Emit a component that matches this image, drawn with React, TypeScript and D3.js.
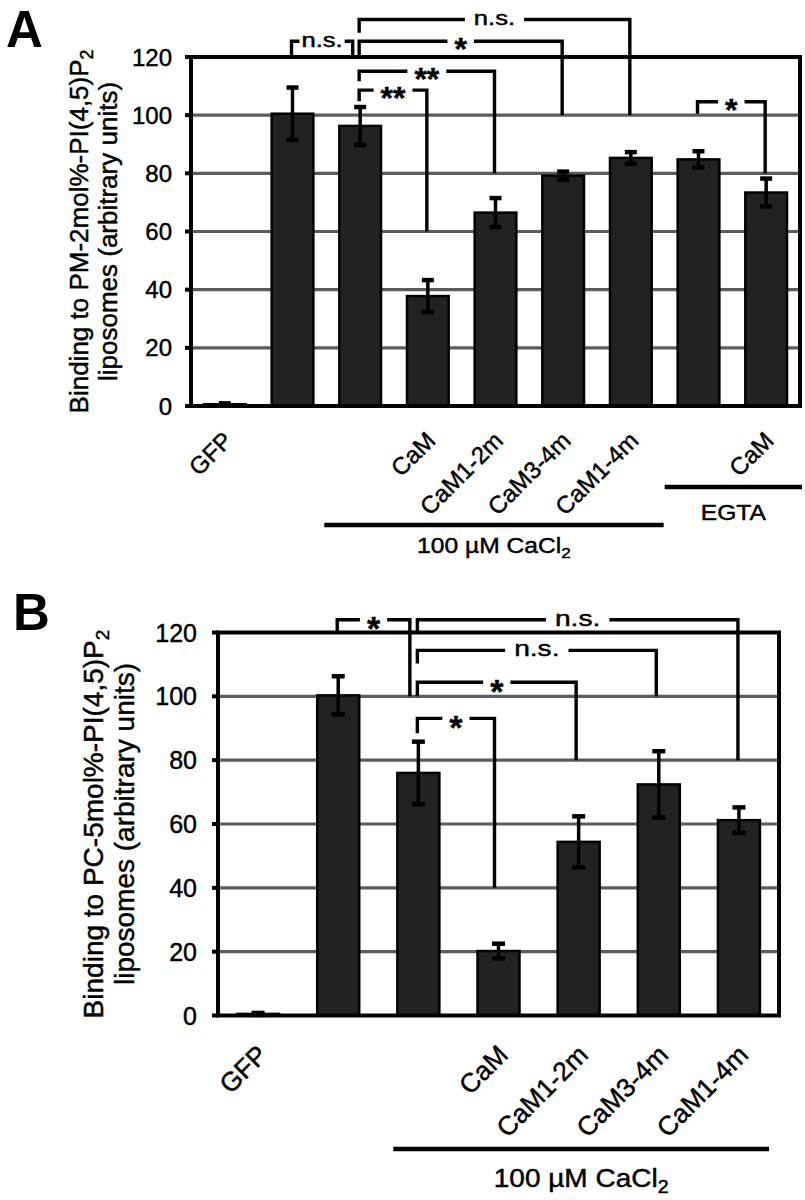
import React from "react";
import * as d3 from "d3";

// ---------- Panel A data ----------
const labelsA = ["GFP", "", "", "CaM", "CaM1-2m", "CaM3-4m", "CaM1-4m", "", "CaM"];
const valuesA = [0.6, 100.5, 96.3, 37.8, 66.5, 79.2, 85.3, 84.8, 73.4];
const errorsA = [0.3, 9, 6.5, 5.5, 5, 1.4, 2, 2.8, 4.8];
const ticksA = [0, 20, 40, 60, 80, 100, 120];
const yTitleA = ["Binding to PM-2mol%-PI(4,5)P", "liposomes (arbitrary units)"];
const bracketsA = [
  { a: 1, b: 2, top: 125.4, aEnd: 120, bEnd: 120, label: "n.s.", bShift: -6.5 },
  { a: 2, b: 6, top: 132.9, aEnd: 128.3, bEnd: 100, label: "n.s.", bShift: 0 },
  { a: 2, b: 5, top: 125.4, aEnd: 120, bEnd: 100, label: "*", bShift: 0 },
  { a: 2, b: 4, top: 115.1, aEnd: 111.7, bEnd: 80, label: "**", bShift: 0 },
  { a: 2, b: 3, top: 108.6, aEnd: 104.8, bEnd: 60, label: "**", bShift: 0 },
  { a: 7, b: 8, top: 104.6, aEnd: 100.5, bEnd: 80, label: "*", bShift: 0 },
];
const groupsA = [
  { from: 2, to: 6, text: "100 µM CaCl", sub: "2" },
  { from: 7, to: 8, text: "EGTA", sub: "" },
];

// ---------- Panel B data ----------
const labelsB = ["GFP", "", "", "CaM", "CaM1-2m", "CaM3-4m", "CaM1-4m"];
const valuesB = [0.5, 100.3, 76, 20.2, 54.4, 72.4, 61.2];
const errorsB = [0.3, 6, 9.8, 2.3, 8, 10.4, 4];
const ticksB = [0, 20, 40, 60, 80, 100, 120];
const yTitleB = ["Binding to PC-5mol%-PI(4,5)P", "liposomes (arbitrary units)"];
const bracketsB = [
  { a: 1, b: 2, top: 124, aEnd: 120, bEnd: 100, label: "*", bShift: -7.5 },
  { a: 2, b: 6, top: 124, aEnd: 120, bEnd: 80, label: "n.s.", bShift: 0 },
  { a: 2, b: 5, top: 114.4, aEnd: 110.3, bEnd: 100, label: "n.s.", bShift: -1.5 },
  { a: 2, b: 4, top: 104.4, aEnd: 100, bEnd: 80, label: "*", bShift: -1.5 },
  { a: 2, b: 3, top: 93.1, aEnd: 88.4, bEnd: 40, label: "*", bShift: -3 },
];
const groupsB = [{ from: 2, to: 6, text: "100 µM CaCl", sub: "2" }];

const FONT = "'Liberation Sans', Arial, Helvetica, sans-serif";
const TXT = { fill: "#000", stroke: "#000", strokeWidth: 0.45 };

let _ctx: CanvasRenderingContext2D | null = null;
function textWidth(s: string, size: number, weight = "normal") {
  if (!_ctx && typeof document !== "undefined") {
    _ctx = document.createElement("canvas").getContext("2d");
  }
  if (!_ctx) return s.length * size * 0.55;
  _ctx.font = `${weight} ${size}px 'Liberation Sans', Arial, sans-serif`;
  return _ctx.measureText(s).width;
}

type PanelCfg = {
  letter: string;
  letterX: number;
  letterY: number;
  labels: string[];
  values: number[];
  errors: number[];
  ticks: number[];
  yTitle: string[];
  brackets: any[];
  groups: any[];
  left: number;
  right: number;
  top: number;
  bottom: number;
  padIn: number;
  tickFont: number;
  tickX: number;
  titleFont: number;
  titleX: number[];
  xFont: number;
  xLabDx: number;
  xLabDy: number;
  nsFont: number;
  starFont: number;
  groupFont: number;
  groupLineY: number[];
  groupTextY: number[];
  groupX0: number[];
  groupX1: number[];
  capW: number;
};

function Panel({ c }: { c: PanelCfg }) {
  const n = c.values.length;
  const x = d3
    .scaleBand<number>()
    .domain(d3.range(n))
    .range([c.left, c.right])
    .paddingInner(c.padIn)
    .paddingOuter(c.padIn / 2);
  const y = d3.scaleLinear().domain([0, 120]).range([c.bottom, c.top]);
  const bw = x.bandwidth();
  const cx = (i: number) => (x(i) as number) + bw / 2;
  const step = x.step();
  const gridTicks = c.ticks.filter((t) => t > 0 && t < 120);
  const titleCY = (c.top + c.bottom) / 2;

  return (
    <g fontFamily={FONT}>
      <text x={c.letterX} y={c.letterY} fontSize={51} fontWeight="bold" fill="#000">
        {c.letter}
      </text>

      {/* gridlines */}
      {gridTicks.map((t) => (
        <line key={"g" + t} x1={c.left} x2={c.right} y1={y(t)} y2={y(t)} stroke="#5c5c5c" strokeWidth={3.2} />
      ))}

      {/* bars */}
      {c.values.map((v, i) => (
        <rect
          key={"b" + i}
          x={x(i)}
          y={y(v)}
          width={bw}
          height={Math.max(0.5, y(0) - y(v))}
          fill="#222"
          stroke="#000"
          strokeWidth={2.5}
        />
      ))}

      {/* frame */}
      <rect x={c.left} y={c.top} width={c.right - c.left} height={c.bottom - c.top} fill="none" stroke="#000" strokeWidth={4} />
      {c.ticks.map((t) => (
        <line key={"t" + t} x1={c.left - 6} x2={c.left} y1={y(t)} y2={y(t)} stroke="#000" strokeWidth={4} />
      ))}
      {c.ticks.map((t) => (
        <text
          key={"tl" + t}
          x={c.tickX}
          y={y(t) + c.tickFont * 0.36}
          fontSize={c.tickFont}
          textAnchor="end"
          {...TXT}
        >
          {t}
        </text>
      ))}

      {/* error bars */}
      {c.values.map((v, i) => {
        const e = c.errors[i];
        const xc = cx(i);
        return (
          <g key={"e" + i} stroke="#000">
            <line x1={xc} x2={xc} y1={y(v + e)} y2={y(v - e)} strokeWidth={3.5} />
            <line x1={xc - c.capW / 2} x2={xc + c.capW / 2} y1={y(v + e)} y2={y(v + e)} strokeWidth={4.5} />
            <line x1={xc - c.capW / 2} x2={xc + c.capW / 2} y1={y(v - e)} y2={y(v - e)} strokeWidth={4.5} />
          </g>
        );
      })}

      {/* y title */}
      {c.yTitle.map((s, k) => (
        <text
          key={"yt" + k}
          transform={`translate(${c.titleX[k]},${titleCY}) rotate(-90)`}
          textAnchor="middle"
          fontSize={c.titleFont}
          {...TXT}
        >
          {s}
          {k === 0 ? (
            <tspan fontSize={c.titleFont * 0.68} dy={c.titleFont * 0.22}>
              2
            </tspan>
          ) : null}
        </text>
      ))}

      {/* x labels */}
      {c.labels.map((s, i) =>
        s ? (
          <text
            key={"xl" + i}
            transform={`translate(${cx(i) + c.xLabDx},${c.bottom + c.xLabDy}) rotate(-45)`}
            textAnchor="end"
            fontSize={c.xFont}
            {...TXT}
          >
            {s}
          </text>
        ) : null
      )}

      {/* group lines */}
      {c.groups.map((g, k) => {
        const x0 = (x(g.from) as number) - (step - bw) / 2 + c.groupX0[k];
        const x1 = (x(g.to) as number) + bw + (step - bw) / 2 + c.groupX1[k];
        const mid = (x0 + x1) / 2;
        return (
          <g key={"gr" + k}>
            <line x1={x0} x2={x1} y1={c.groupLineY[k]} y2={c.groupLineY[k]} stroke="#000" strokeWidth={4.5} />
            <text
              transform={`translate(${mid},${c.groupTextY[k]}) scale(1.12,1)`}
              textAnchor="middle"
              fontSize={c.groupFont}
              {...TXT}
            >
              {g.text}
              {g.sub ? (
                <tspan fontSize={c.groupFont * 0.7} dy={c.groupFont * 0.22}>
                  {g.sub}
                </tspan>
              ) : null}
            </text>
          </g>
        );
      })}

      {/* significance brackets */}
      {c.brackets.map((b, k) => {
        const ax = cx(b.a) - 1;
        const bx = cx(b.b) - 1 + (b.bShift || 0);
        const ty = y(b.top);
        const mid = (ax + bx) / 2;
        const isStar = b.label.indexOf("*") >= 0;
        const fs = isStar ? c.starFont : c.nsFont;
        const sx = isStar ? 1 : 1.28;
        const w = textWidth(b.label, fs, isStar ? "bold" : "normal") * sx;
        const gap = Math.min(w + (isStar ? 14 : 18), Math.abs(bx - ax) - 16);
        const d = `M${ax},${y(b.aEnd)}V${ty}H${mid - gap / 2}M${mid + gap / 2},${ty}H${bx}V${y(b.bEnd)}`;
        const base = isStar ? ty + fs * 0.6 : ty + fs * 0.27;
        return (
          <g key={"br" + k}>
            <path d={d} fill="none" stroke="#000" strokeWidth={3.4} strokeLinejoin="miter" />
            <text
              transform={`translate(${mid},${base}) scale(${sx},1)`}
              textAnchor="middle"
              fontSize={fs}
              fontWeight={isStar ? "bold" : "normal"}
              {...TXT}
            >
              {b.label}
            </text>
          </g>
        );
      })}
    </g>
  );
}

const cfgA: PanelCfg = {
  letter: "A",
  letterX: 6,
  letterY: 47,
  labels: labelsA,
  values: valuesA,
  errors: errorsA,
  ticks: ticksA,
  yTitle: yTitleA,
  brackets: bracketsA,
  groups: groupsA,
  left: 191,
  right: 800,
  top: 57,
  bottom: 406,
  padIn: 0.384,
  tickFont: 24,
  tickX: 172,
  titleFont: 26,
  titleX: [87.5, 116.5],
  xFont: 24,
  xLabDx: 9,
  xLabDy: 36,
  nsFont: 20,
  starFont: 32,
  groupFont: 22,
  groupLineY: [525, 487],
  groupTextY: [553, 520],
  groupX0: [-2, 0],
  groupX1: [-1, 2],
  capW: 12,
};

const cfgB: PanelCfg = {
  letter: "B",
  letterX: 13,
  letterY: 630,
  labels: labelsB,
  values: valuesB,
  errors: errorsB,
  ticks: ticksB,
  yTitle: yTitleB,
  brackets: bracketsB,
  groups: groupsB,
  left: 218,
  right: 779,
  top: 632.5,
  bottom: 1015.5,
  padIn: 0.476,
  tickFont: 25,
  tickX: 197,
  titleFont: 28,
  titleX: [102.5, 134],
  xFont: 26.5,
  xLabDx: 11,
  xLabDy: 41,
  nsFont: 22,
  starFont: 34,
  groupFont: 25,
  groupLineY: [1149],
  groupTextY: [1187],
  groupX0: [15],
  groupX1: [-10],
  capW: 13,
};

export default function App() {
  return (
    <svg
      width={805}
      height={1200}
      viewBox="0 0 805 1200"
      style={{ position: "absolute", left: 0, top: 0, background: "#fff" }}
    >
      <rect x={0} y={0} width={805} height={1200} fill="#fff" />
      <Panel c={cfgA} />
      <Panel c={cfgB} />
    </svg>
  );
}
